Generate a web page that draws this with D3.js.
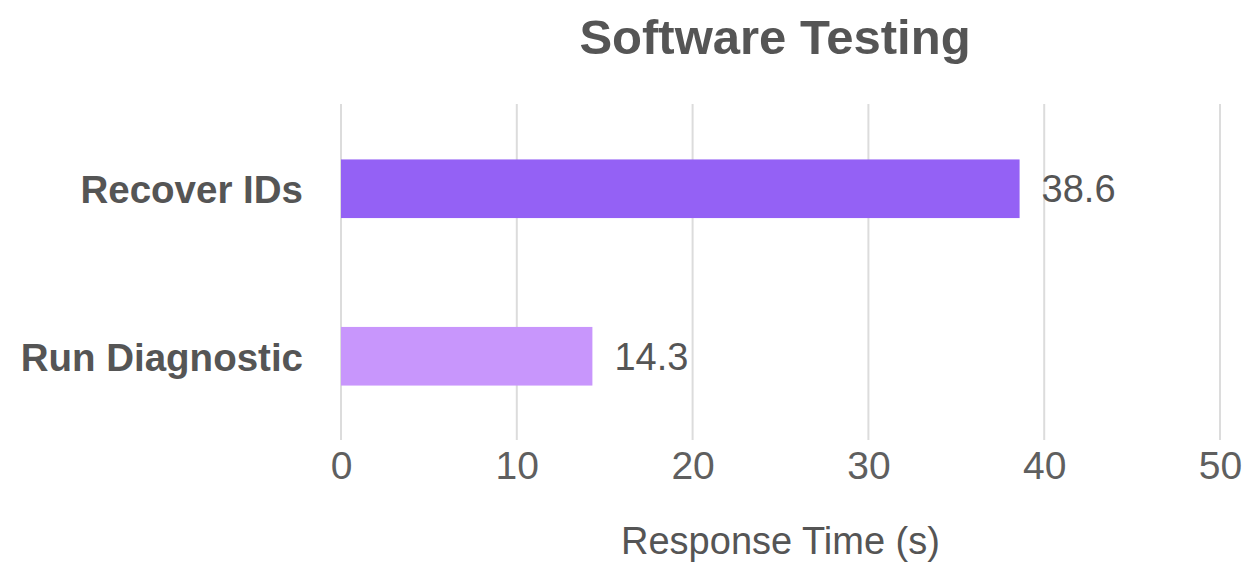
<!DOCTYPE html>
<html>
<head>
<meta charset="utf-8">
<script src="https://cdn.jsdelivr.net/npm/d3@7"></script>
<style>
  html, body { margin: 0; padding: 0; background: #fff; }
  svg { display: block; font-family: "Liberation Sans", Arial, Helvetica, sans-serif; }
</style>
</head>
<body>
<svg id="chart" width="1260" height="563"></svg>
<script>
// Response time per test task
const categories = ["Recover IDs", "Run Diagnostic"];
const values = [38.6, 14.3];
const barColors = ["#9461f5", "#c896fc"];
const tickValues = [0, 10, 20, 30, 40, 50];
const titleText = "Software Testing";
const xAxisTitle = "Response Time (s)";

const svg = d3.select("#chart");
const margin = { left: 341, right: 40, top: 104, bottom: 123 };
const W = 1260, H = 563;

const x = d3.scaleLinear()
  .domain([0, 50])
  .range([margin.left, W - margin.right]);

const y = d3.scaleBand()
  .domain(categories)
  .range([margin.top + 1, H - margin.bottom])
  .paddingInner(0.65)
  .paddingOuter(0.325);

// vertical gridlines
svg.append("g")
  .selectAll("line")
  .data(tickValues)
  .join("line")
  .attr("x1", d => x(d))
  .attr("x2", d => x(d))
  .attr("y1", margin.top)
  .attr("y2", H - margin.bottom)
  .attr("stroke", "#dcdcdc")
  .attr("stroke-width", 2);

// bars
svg.append("g")
  .selectAll("rect")
  .data(categories)
  .join("rect")
  .attr("x", x(0))
  .attr("y", d => y(d))
  .attr("width", (d, i) => x(values[i]) - x(0))
  .attr("height", y.bandwidth())
  .attr("fill", (d, i) => barColors[i]);

// value labels
svg.append("g")
  .selectAll("text")
  .data(categories)
  .join("text")
  .attr("x", (d, i) => x(values[i]) + 22)
  .attr("y", d => y(d) + y.bandwidth() / 2)
  .attr("dy", "0.36em")
  .attr("font-size", 38)
  .attr("fill", "#555")
  .text((d, i) => values[i].toFixed(1));

// category labels
const yAxis = d3.axisLeft(y).tickSize(0).tickPadding(38);
const yg = svg.append("g")
  .attr("transform", `translate(${x(0)},0)`)
  .call(yAxis);
yg.select(".domain").remove();
yg.selectAll("text")
  .attr("font-size", 38.5)
  .attr("font-weight", "bold")
  .attr("fill", "#555")
  .attr("dy", "0.38em")
  .attr("font-family", "'Liberation Sans', Arial, sans-serif");

// x axis tick labels
const xAxis = d3.axisBottom(x).tickValues(tickValues).tickSize(0).tickPadding(0);
const xg = svg.append("g")
  .attr("transform", `translate(0,${H - margin.bottom})`)
  .call(xAxis);
xg.select(".domain").remove();
xg.selectAll("text")
  .attr("y", 25)
  .attr("dy", "0.36em")
  .attr("font-size", 39)
  .attr("fill", "#5f5f5f")
  .attr("font-family", "'Liberation Sans', Arial, sans-serif");

// axis title
svg.append("text")
  .attr("x", (x(0) + x(50)) / 2)
  .attr("y", 540)
  .attr("dy", "0.36em")
  .attr("text-anchor", "middle")
  .attr("font-size", 38)
  .attr("fill", "#555")
  .text(xAxisTitle);

// chart title
svg.append("text")
  .attr("x", 775)
  .attr("y", 36)
  .attr("dy", "0.36em")
  .attr("text-anchor", "middle")
  .attr("font-size", 49)
  .attr("font-weight", "bold")
  .attr("fill", "#555")
  .text(titleText);
</script>
</body>
</html>
